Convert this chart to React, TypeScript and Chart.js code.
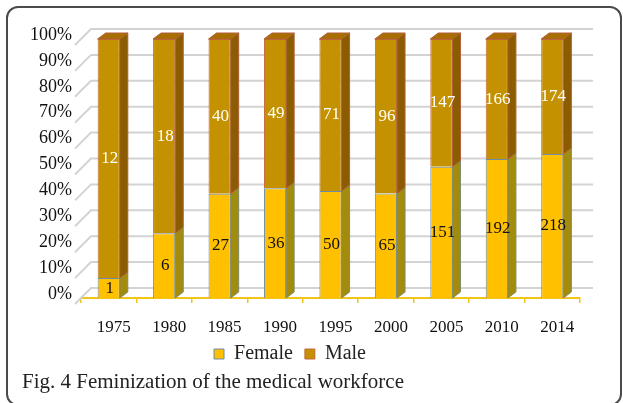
import React, { useEffect, useRef } from 'react';
import { Chart, registerables } from 'chart.js';

Chart.register(...registerables);

const years = ['1975', '1980', '1985', '1990', '1995', '2000', '2005', '2010', '2014'];
const female = [1, 6, 27, 36, 50, 65, 151, 192, 218];
const male = [12, 18, 40, 49, 71, 96, 147, 166, 174];
const seriesNames = ['Female', 'Male'];
const caption = 'Fig. 4 Feminization of the medical workforce';

const femalePct = female.map((f, i) => (f / (f + male[i])) * 100);
const malePct = male.map((m, i) => (m / (female[i] + m)) * 100);
const counts = [female, male];

const FONT = '"Liberation Serif", "Times New Roman", serif';
const DEPTH_X = 8;
const DEPTH_Y = 6;
const sideColors = ['#A38B0C', '#8C5C00'];
const sideStroke = ['#7E8C6E', '#B0603A'];
const topColor = '#A86E00';
const labelColors = ['#111111', '#ffffff'];

const wallPlugin = {
  id: 'wall3d',
  beforeDatasetsDraw(chart: any) {
    const { ctx, chartArea, scales } = chart;
    const y = scales.y;
    ctx.save();
    ctx.strokeStyle = '#d3d3d3';
    ctx.lineWidth = 2;
    y.ticks.forEach((t: any) => {
      const yp = y.getPixelForValue(t.value);
      ctx.beginPath();
      ctx.moveTo(chartArea.left - 6, yp + 6);
      ctx.lineTo(chartArea.left + 10, yp - 10);
      ctx.lineTo(chartArea.right + 13, yp - 10);
      ctx.stroke();
    });
    ctx.restore();
  },
};

const bar3dPlugin = {
  id: 'bar3d',
  afterDatasetsDraw(chart: any) {
    const { ctx } = chart;
    const n = chart.data.datasets.length;
    ctx.save();
    for (let di = 0; di < n; di++) {
      const meta = chart.getDatasetMeta(di);
      meta.data.forEach((bar: any) => {
        const { x, y, base, width } = bar.getProps(['x', 'y', 'base', 'width'], true);
        const l = x - width / 2;
        const r = x + width / 2;
        ctx.lineWidth = 1;
        ctx.fillStyle = sideColors[di];
        ctx.strokeStyle = sideStroke[di];
        ctx.beginPath();
        ctx.moveTo(r, y);
        ctx.lineTo(r + DEPTH_X, y - DEPTH_Y);
        ctx.lineTo(r + DEPTH_X, base - DEPTH_Y);
        ctx.lineTo(r, base);
        ctx.closePath();
        ctx.fill();
        ctx.stroke();
        if (di === n - 1) {
          ctx.fillStyle = topColor;
          ctx.beginPath();
          ctx.moveTo(l, y);
          ctx.lineTo(l + DEPTH_X, y - DEPTH_Y);
          ctx.lineTo(r + DEPTH_X, y - DEPTH_Y);
          ctx.lineTo(r, y);
          ctx.closePath();
          ctx.fill();
          ctx.stroke();
        }
      });
    }
    ctx.font = '17px ' + FONT;
    ctx.textAlign = 'center';
    ctx.textBaseline = 'middle';
    for (let di = 0; di < n; di++) {
      const meta = chart.getDatasetMeta(di);
      meta.data.forEach((bar: any, i: number) => {
        const { x, y, base } = bar.getProps(['x', 'y', 'base'], true);
        ctx.fillStyle = labelColors[di];
        ctx.fillText(String(counts[di][i]), x + 1, (y + base) / 2);
      });
    }
    ctx.restore();
  },
};

function ChartBox() {
  const ref = useRef<HTMLCanvasElement | null>(null);
  useEffect(() => {
    if (!ref.current) return;
    const chart = new Chart(ref.current, {
      type: 'bar',
      data: {
        labels: years,
        datasets: [
          {
            label: seriesNames[0],
            data: femalePct,
            backgroundColor: '#FFC000',
            borderColor: '#6F8CA6',
            borderWidth: 1,
            barPercentage: 0.4,
            categoryPercentage: 1,
          },
          {
            label: seriesNames[1],
            data: malePct,
            backgroundColor: '#C49200',
            borderColor: '#C8683A',
            borderWidth: 1,
            barPercentage: 0.4,
            categoryPercentage: 1,
          },
        ],
      },
      options: {
        animation: false,
        responsive: false,
        devicePixelRatio: 1,
        layout: { padding: { top: 39, right: 43, left: 0, bottom: 4 } },
        plugins: {
          tooltip: { enabled: false },
          legend: {
            position: 'bottom',
            labels: {
              boxWidth: 10,
              boxHeight: 10,
              padding: 12,
              color: '#222',
              font: { family: FONT, size: 20 },
            },
          },
        },
        scales: {
          x: {
            stacked: true,
            afterFit: (s: any) => {
              s.height = 34;
            },
            grid: {
              display: true,
              drawOnChartArea: false,
              drawTicks: true,
              tickLength: 5,
              color: '#F2C318',
              lineWidth: 1.5,
            },
            border: { display: true, color: '#F2C318', width: 2 },
            ticks: {
              color: '#111',
              padding: 14,
              labelOffset: 5,
              font: { family: FONT, size: 17 },
            },
          },
          y: {
            stacked: true,
            min: 0,
            max: 100,
            afterFit: (s: any) => {
              s.width = 81;
            },
            grid: { display: false, drawTicks: false },
            border: { display: false },
            ticks: {
              stepSize: 10,
              padding: 9,
              labelOffset: -4,
              color: '#111',
              font: { family: FONT, size: 18 },
              callback: (v: any) => v + '%',
            },
          },
        },
      },
      plugins: [wallPlugin, bar3dPlugin],
    } as any);
    return () => chart.destroy();
  }, []);
  return (
    <canvas
      ref={ref}
      width={623}
      height={378}
      style={{ position: 'absolute', left: 0, top: 0, display: 'block' }}
    />
  );
}

export default function App() {
  return (
    <div style={{ position: 'absolute', left: 0, top: 0, width: 623, height: 403, overflow: 'hidden', background: '#fff' }}>
      <div
        style={{
          position: 'absolute',
          left: 6,
          top: 6,
          width: 616,
          height: 400,
          border: '2px solid #4a4a4a',
          borderRadius: 12,
          boxSizing: 'border-box',
        }}
      />
      <ChartBox />
      <div
        style={{
          position: 'absolute',
          left: 22,
          top: 369,
          fontFamily: FONT,
          fontSize: 21,
          lineHeight: '24px',
          color: '#222',
          whiteSpace: 'nowrap',
        }}
      >
        {caption}
      </div>
    </div>
  );
}
